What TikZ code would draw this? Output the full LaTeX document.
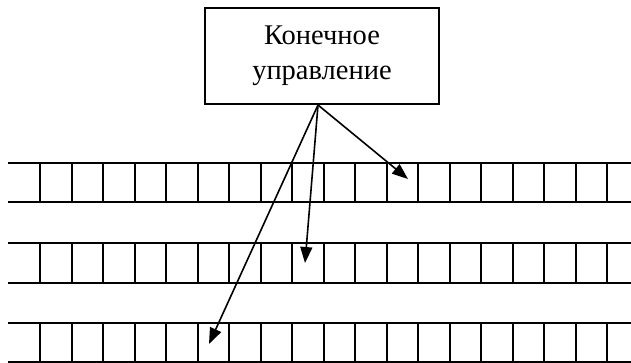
\documentclass[tikz,border=0pt]{standalone}
\usepackage{fontspec}
\setmainfont{Liberation Serif}
\usetikzlibrary{arrows.meta}
\tikzset{
	tapeline/.style={line width=2pt},
	ctrlbox/.style={draw, line width=2pt, minimum width=234pt, minimum height=96pt,
			align=center, inner sep=0pt, font=\fontsize{28.5}{35}\selectfont},
	headarrow/.style={line width=1.6pt, -{Triangle[length=16pt,width=12pt]}}
}

\begin{document}
\begin{tikzpicture}[x=1pt,y=-1pt]
	\useasboundingbox (0,0) rectangle (631,362);

	% Draw the finite control
	\node[ctrlbox] (ctrl) at (322,56) {Конечное\\управление};
	\coordinate (apex) at (318,105);

	% Draw the three tapes
	\foreach \top/\bot in {163/202, 243/283, 323/362} {
			\draw[tapeline] (8,\top) -- (631,\top);
			\draw[tapeline] (8,\bot) -- (631,\bot);
			\foreach \k in {0,...,18}
				\draw[tapeline] (40+31.5*\k,\top) -- (40+31.5*\k,\bot);
		}

	% Heads on the tapes
	\coordinate (headA) at (408,179);
	\coordinate (headB) at (305,263);
	\coordinate (headC) at (209,344);
	\draw[headarrow] (apex) -- (headA);
	\draw[headarrow] (apex) -- (headB);
	\draw[headarrow] (apex) -- (headC);
\end{tikzpicture}
\end{document}
